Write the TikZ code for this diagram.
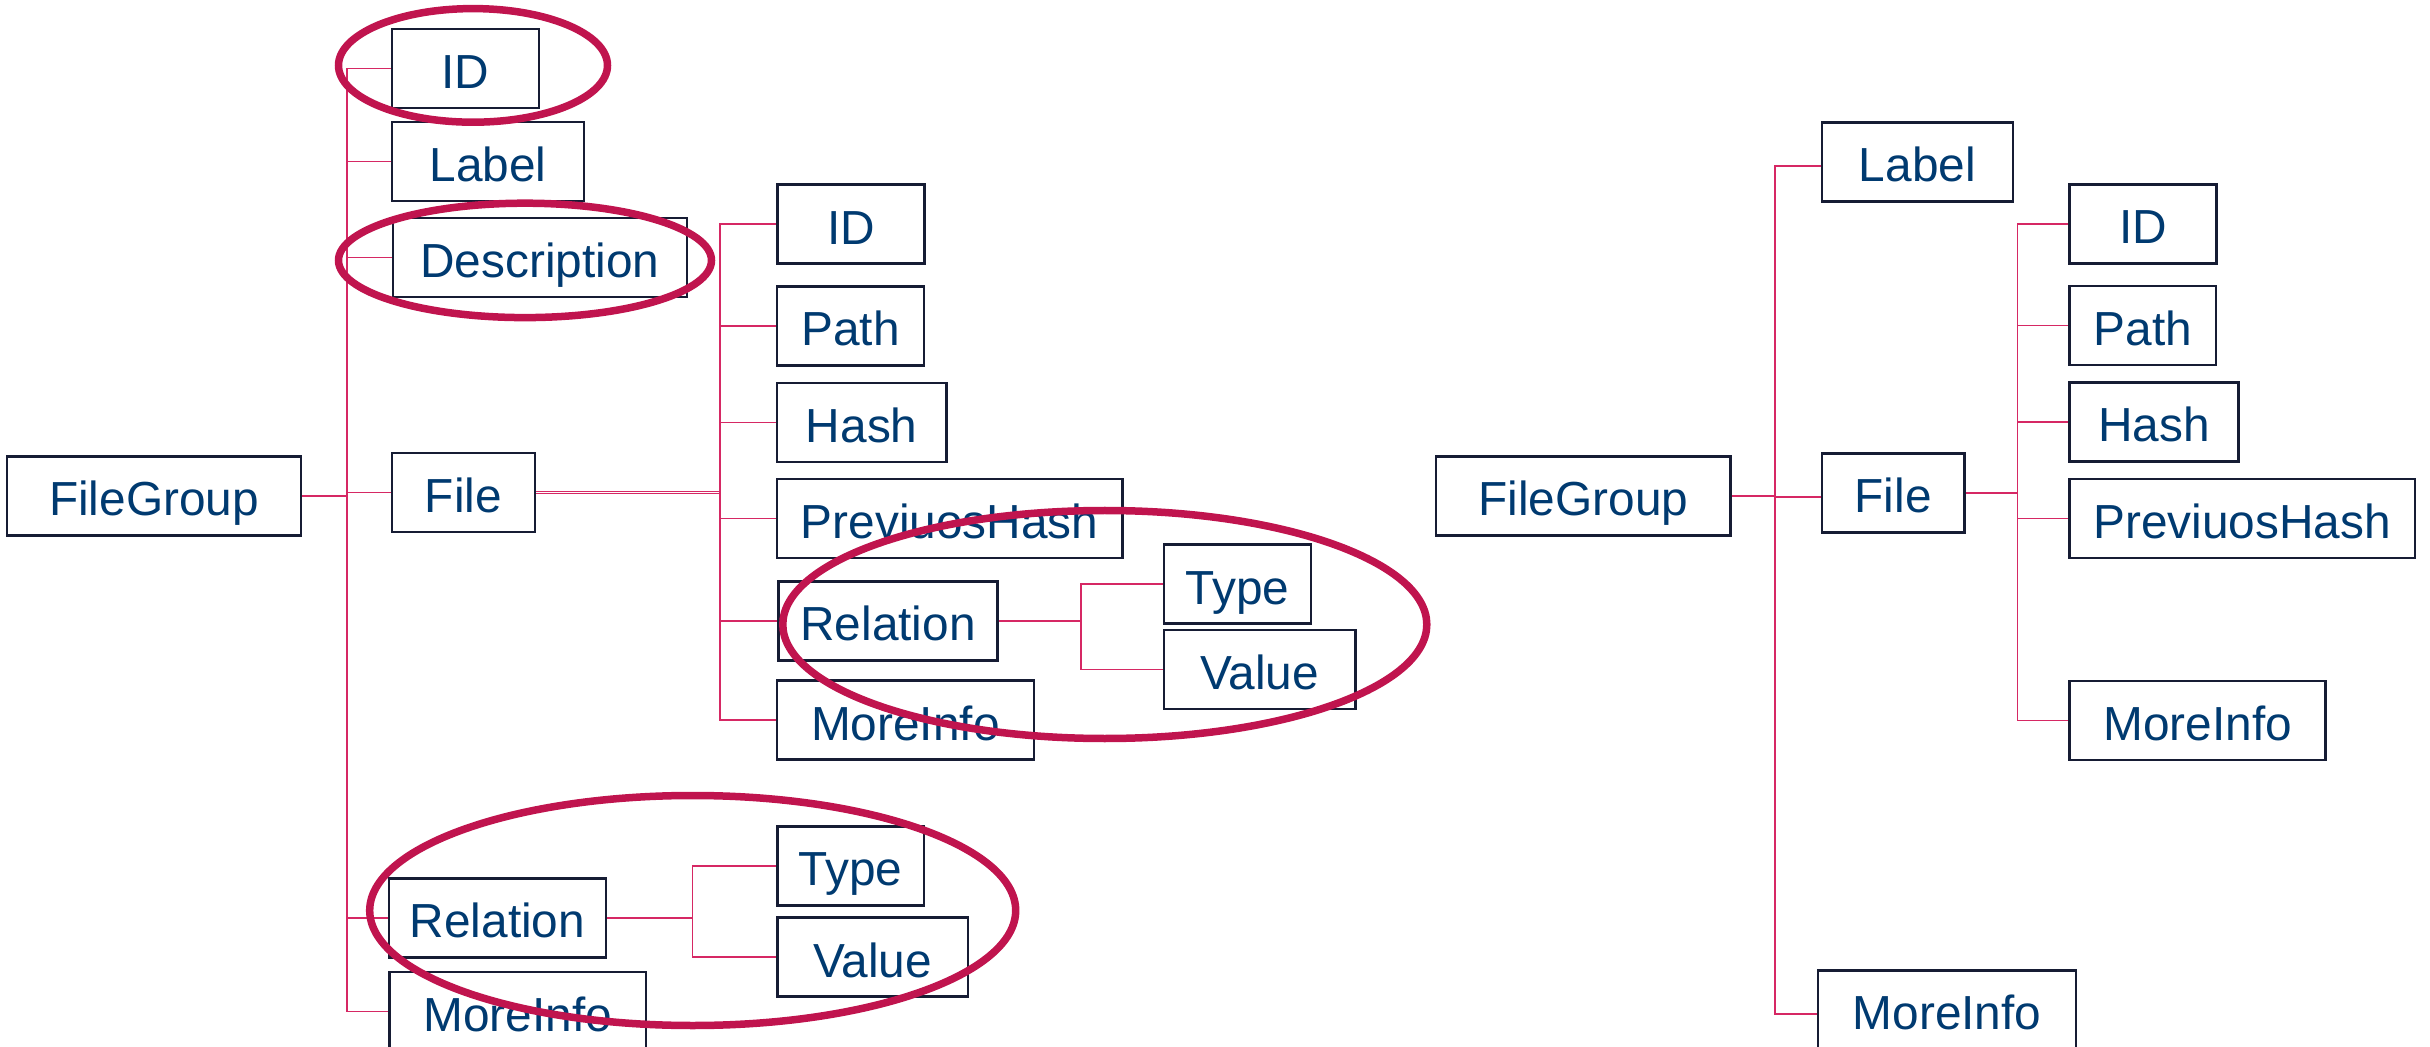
\documentclass[tikz,border=0pt]{standalone}
\usepackage{fontspec}
\setmainfont{Liberation Sans}
\definecolor{boxline}{RGB}{22,28,52}
\definecolor{labeltext}{RGB}{0,58,112}
\definecolor{linkline}{RGB}{214,40,100}
\definecolor{ringline}{RGB}{192,20,78}
\begin{document}
\begin{tikzpicture}[x=0.5pt,y=-0.5pt,
  box/.style={draw=boxline, line width=1.25pt, fill=white, text=labeltext,
    font=\fontsize{23.9}{28}\selectfont, minimum height=39.5pt, inner sep=0pt,
    text height=19.8pt, text depth=0pt},
  link/.style={draw=linkline, line width=0.75pt},
  ring/.style={draw=ringline, line width=3.75pt}]
\clip (0,0) rectangle (2430,1047);

% ---------- left tree ----------
\node[box, minimum width=147pt]   (FGL)    at (154,496)      {FileGroup};
\node[box, minimum width=73.5pt]  (IDL)    at (465.5,68.5)   {ID};
\node[box, minimum width=96pt]    (LabelL) at (488,161.5)    {Label};
\node[box, minimum width=147pt]   (DescL)  at (540,257.5)    {Description};
\node[box, minimum width=71.5pt]  (FileL)  at (463.5,492.75) {File};
\node[box, minimum width=73.5pt]  (FIDL)   at (851,224.25)   {ID};
\node[box, minimum width=73.5pt]  (PathL)  at (850.5,325.8)  {Path};
\node[box, minimum width=84.7pt]  (HashL)  at (861.7,422.5)  {Hash};
\node[box, minimum width=172.7pt] (PHashL) at (949.7,518.75) {PreviuosHash};
\node[box, minimum width=109.4pt] (FRelL)  at (888,621)      {Relation};
\node[box, minimum width=128.4pt] (FMoreL) at (905.4,720.2)  {MoreInfo};
\node[box, minimum width=73.4pt]  (FTypeL) at (1237.4,584.2) {Type};
\node[box, minimum width=95.8pt]  (FValL)  at (1259.8,669.25){Value};
\node[box, minimum width=108.5pt] (RelL)   at (497.5,918)    {Relation};
\node[box, minimum width=73.3pt]  (TypeL)  at (850.7,865.9)  {Type};
\node[box, minimum width=95.3pt]  (ValL)   at (872.7,957.2)  {Value};
\node[box, minimum width=128.2pt] (MoreL)  at (517.8,1011.5) {MoreInfo};

% ---------- right tree ----------
\node[box, minimum width=147.3pt] (FGR)    at (1583.3,495.9) {FileGroup};
\node[box, minimum width=95.6pt]  (LabelR) at (1917.4,162)   {Label};
\node[box, minimum width=71.3pt]  (FileR)  at (1893.1,492.8) {File};
\node[box, minimum width=128.9pt] (MoreR)  at (1947,1010)    {MoreInfo};
\node[box, minimum width=73.5pt]  (FIDR)   at (2143,224)     {ID};
\node[box, minimum width=73.3pt]  (PathR)  at (2142.8,325.6) {Path};
\node[box, minimum width=84.5pt]  (HashR)  at (2154,422.1)   {Hash};
\node[box, minimum width=172.8pt] (PHashR) at (2242.2,518.7) {PreviuosHash};
\node[box, minimum width=128pt]   (FMoreR) at (2197.6,720.4) {MoreInfo};

% trunk positions of the bracket connectors
\coordinate (tL) at (347,0);
\coordinate (sL) at (720,0);
\coordinate (rL) at (1081,0);
\coordinate (bL) at (692.6,0);
\coordinate (tR) at (1775,0);
\coordinate (sR) at (2017.6,0);

% ---------- connectors, left ----------
\foreach \c in {IDL,LabelL,DescL,FileL,RelL,MoreL}
  \draw[link] (FGL.east) -- (FGL.east -| tL) |- (\c.west);
\draw[linkline, line width=0.5pt, double=white, double distance=0.6pt]
  (FileL.east) -- (FileL.east -| sL);
\foreach \c in {FIDL,PathL,HashL,PHashL,FRelL,FMoreL}
  \draw[link] (FileL.east -| sL) |- (\c.west);
\foreach \c in {FTypeL,FValL}
  \draw[link] (FRelL.east) -- (FRelL.east -| rL) |- (\c.west);
\foreach \c in {TypeL,ValL}
  \draw[link] (RelL.east) -- (RelL.east -| bL) |- (\c.west);

% ---------- connectors, right ----------
\foreach \c in {LabelR,FileR,MoreR}
  \draw[link] (FGR.east) -- (FGR.east -| tR) |- ([yshift=-2pt]\c.west);
\draw[link, line width=1.1pt] (FileR.east) -- (FileR.east -| sR);
\foreach \c in {FIDR,PathR,HashR,PHashR,FMoreR}
  \draw[link] (FileR.east -| sR) |- (\c.west);

% ---------- highlight rings ----------
\draw[ring] (473,65.4) ellipse [x radius=67.25pt, y radius=28.4pt];
\draw[ring] (525,260.4) ellipse [x radius=93.25pt, y radius=28.6pt];
\draw[ring] (1104.8,624.5) ellipse [x radius=161pt, y radius=57pt];
\draw[ring] (692.7,910.5) ellipse [x radius=161.5pt, y radius=57.5pt];
\end{tikzpicture}
\end{document}
